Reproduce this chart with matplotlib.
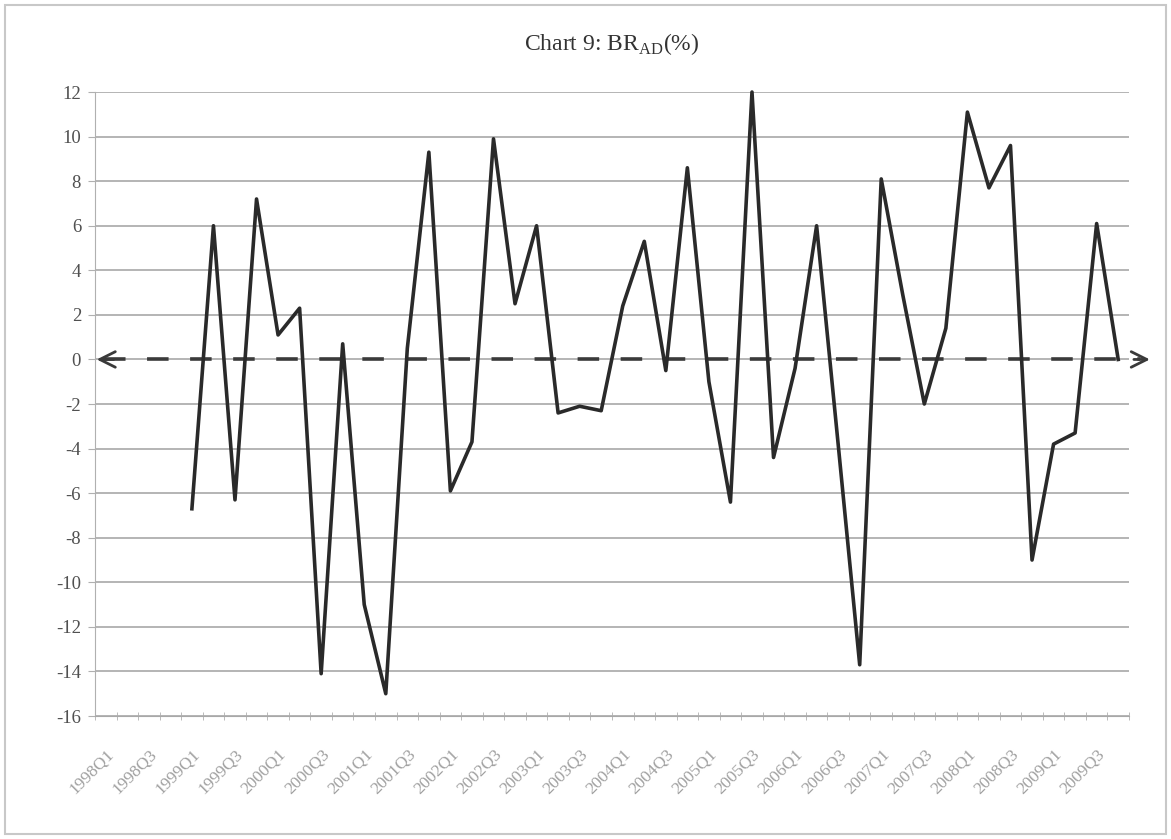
import numpy as np
import matplotlib
matplotlib.use("Agg")
import matplotlib.pyplot as plt
from matplotlib.patches import Rectangle

# quarters 1998Q1 .. 2009Q4, label every second one
quarters = [f"{y}Q{q}" for y in range(1998, 2010) for q in range(1, 5)]
tick_labels = quarters[::2]

# BR_AD (%) by quarter, first four quarters empty
br_ad = [np.nan, np.nan, np.nan, np.nan,
         -6.7, 6.0, -6.3, 7.2, 1.1, 2.3, -14.1, 0.7,
         -11.0, -15.0, 0.5, 9.3, -5.9, -3.7, 9.9, 2.5,
         6.0, -2.4, -2.1, -2.3, 2.4, 5.3, -0.5, 8.6,
         -1.0, -6.4, 12.0, -4.4, -0.4, 6.0, -3.8, -13.7,
         8.1, 2.9, -2.0, 1.4, 11.1, 7.7, 9.6, -9.0,
         -3.8, -3.3, 6.1, 0.0]

yticks = list(range(-16, 13, 2))

plt.rcParams['font.family'] = ['Liberation Serif', 'DejaVu Serif']
plt.rcParams['mathtext.fontset'] = 'custom'
plt.rcParams['mathtext.rm'] = 'Liberation Serif'
plt.rcParams['lines.scale_dashes'] = False

fig = plt.figure(figsize=(11.71, 8.39), dpi=100)
ax = fig.add_axes([0.0811, 0.1466, 0.883, 0.7437])

x = np.arange(len(quarters))

# gridlines
for v in yticks:
    ax.axhline(v, color='#a8a8a8', lw=1.2, zorder=1)

# zero reference, dashed with arrowheads at both ends
ax.plot([-0.1, 48.0], [0, 0], color='#3a3a3a', lw=2.6, dashes=(15.5, 15.5),
        clip_on=False, zorder=2)
ax.annotate('', xy=(48.6, 0), xytext=(47.6, 0),
            arrowprops=dict(arrowstyle='->', color='#3a3a3a', lw=2.0,
                            mutation_scale=28),
            annotation_clip=False)
ax.annotate('', xy=(-0.55, 0), xytext=(0.5, 0),
            arrowprops=dict(arrowstyle='->', color='#3a3a3a', lw=2.0,
                            mutation_scale=28),
            annotation_clip=False)

ax.plot(x, br_ad, color='#2a2a2a', lw=2.6, clip_on=False, zorder=3)

ax.set_xlim(-0.5, len(quarters) - 0.5)
ax.set_ylim(-16, 12)
ax.set_yticks(yticks)
ax.set_yticklabels([str(v) for v in yticks], fontsize=13.5, color='#505050')

ax.set_xticks(x[::2])
ax.set_xticklabels(tick_labels, rotation=45, ha='right', va='top',
                   rotation_mode='anchor', fontsize=12.5, color='#a0a0a0')
ax.set_xticks(np.arange(-0.5, len(quarters), 1), minor=True)
ax.tick_params(axis='x', which='major', length=0, pad=22)
ax.tick_params(axis='x', which='minor', length=6, direction='inout',
               color='#b0b0b0')
ax.tick_params(axis='y', length=5, color='#b0b0b0', pad=5)

for s in ['top', 'right']:
    ax.spines[s].set_visible(False)
ax.spines['left'].set_color('#b0b0b0')
ax.spines['bottom'].set_color('#a8a8a8')

ax.set_title('Chart 9: BR$_{\\mathrm{AD}}$(%)', fontsize=17, color='#333333',
             pad=30)

# chart frame
fig.patches.append(Rectangle((0.004, 0.006), 0.992, 0.988, transform=fig.transFigure,
                             fill=False, edgecolor='#c8c8c8', lw=1.5))

fig.savefig('out.png', dpi=100, facecolor='white')
